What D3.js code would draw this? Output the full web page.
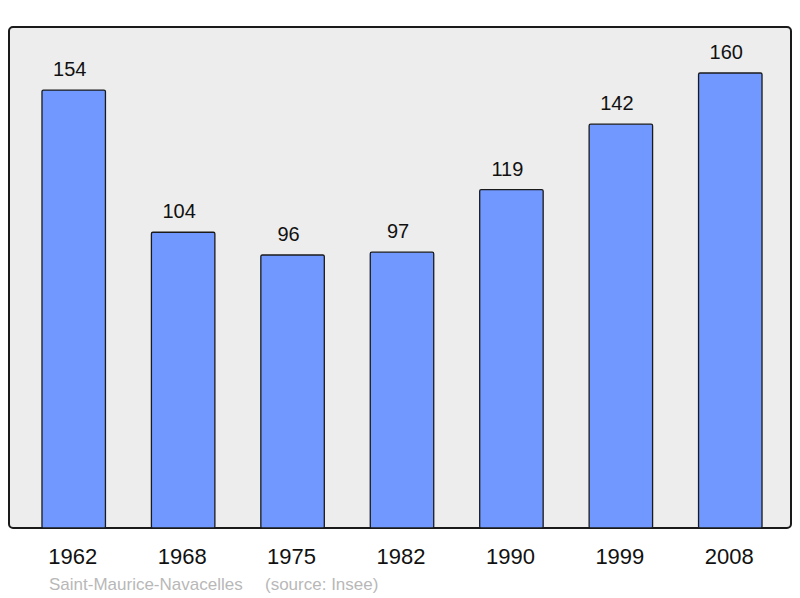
<!DOCTYPE html>
<html>
<head>
<meta charset="utf-8">
<script src="https://cdn.jsdelivr.net/npm/d3@7"></script>
<style>
body { margin: 0; background: #ffffff; }
svg { display: block; }
</style>
</head>
<body>
<div id="chart"></div>
<script>
// chart values
var years = ["1962", "1968", "1975", "1982", "1990", "1999", "2008"];
var population = [154, 104, 96, 97, 119, 142, 160];
var townName = "Saint-Maurice-Navacelles";
var sourceText = "(source: Insee)";

var width = 800;
var height = 598;

var svg = d3.select("#chart")
	.append("svg")
	.attr("width", width)
	.attr("height", height);

//grey panel behind the bars
svg.append("rect")
	.attr("x", 9)
	.attr("y", 27)
	.attr("width", 782)
	.attr("height", 501)
	.attr("rx", 4)
	.attr("ry", 4)
	.style("fill", "#ededed")
	.style("stroke", "#1a1a1a")
	.style("stroke-width", 2);

var x = d3.scaleBand()
	.domain(years)
	.range([19, 785])
	.paddingInner(0.42)
	.paddingOuter(0.21);

var y = d3.scaleLinear()
	.domain([0, 160])
	.range([528, 73]);

var data = years.map(function(d, i){
	return {year: d, value: population[i]};
});

//bars
svg.selectAll("rect.bar")
	.data(data)
	.enter()
	.append("rect")
	.attr("class", "bar")
	.attr("x", function(d){ return x(d.year); })
	.attr("y", function(d){ return y(d.value); })
	.attr("width", x.bandwidth())
	.attr("height", function(d){ return y(0) - y(d.value); })
	.attr("rx", 1.5)
	.style("fill", "#7098ff")
	.style("stroke", "#1a1a1a")
	.style("stroke-width", 1.3);

//value labels above the bars (sit a little left of the bar centre)
svg.selectAll("text.value")
	.data(data)
	.enter()
	.append("text")
	.attr("class", "value")
	.attr("x", function(d){ return x(d.year) + x.bandwidth() / 2 - 4; })
	.attr("y", function(d){ return y(d.value) - 14; })
	.attr("text-anchor", "middle")
	.style("font-family", "'Liberation Sans', Arial, sans-serif")
	.style("font-size", "20px")
	.style("fill", "#111")
	.text(function(d){ return d.value; });

//year axis, no line or ticks
var xAxis = svg.append("g")
	.attr("transform", "translate(0,528)")
	.call(d3.axisBottom(x).tickSize(0).tickPadding(0));
xAxis.select(".domain").remove();
xAxis.selectAll("text")
	.attr("x", -1)
	.attr("y", 36)
	.attr("dy", null)
	.style("font-family", "'Liberation Sans', Arial, sans-serif")
	.style("font-size", "22px")
	.style("fill", "#111");

//footer
svg.append("text")
	.attr("x", 49)
	.attr("y", 590)
	.style("font-family", "'Liberation Sans', Arial, sans-serif")
	.style("font-size", "17px")
	.style("fill", "#b8b8b8")
	.text(townName);

svg.append("text")
	.attr("x", 265)
	.attr("y", 590)
	.style("font-family", "'Liberation Sans', Arial, sans-serif")
	.style("font-size", "17px")
	.style("fill", "#b8b8b8")
	.text(sourceText);
</script>
</body>
</html>
